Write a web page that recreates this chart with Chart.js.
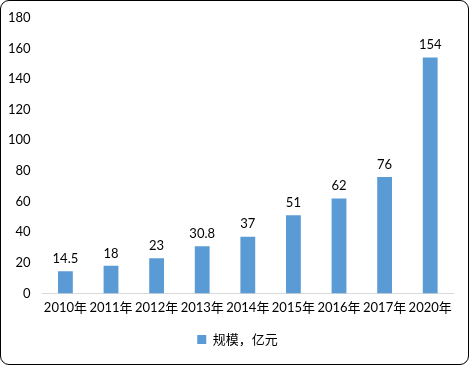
<!DOCTYPE html>
<html>
<head>
<meta charset="utf-8">
<script src="https://cdn.jsdelivr.net/npm/chart.js@4"></script>
<style>
  html, body { margin: 0; padding: 0; background: #fff; }
  #box {
    width: 469px; height: 365px; box-sizing: border-box;
    border: 1px solid #000; border-radius: 9px; overflow: hidden; position: relative;
  }
  #wrap { position: absolute; left: 0; top: -3px; width: 467px; height: 366px; }
</style>
</head>
<body>
<div id="box"><div id="wrap"><canvas id="barChart"></canvas></div></div>
<script>
// data
const years = ['2010年', '2011年', '2012年', '2013年', '2014年', '2015年', '2016年', '2017年', '2020年'];
const scale = [14.5, 18, 23, 30.8, 37, 51, 62, 76, 154];
const seriesName = '规模，亿元';
const yTicks = [0, 20, 40, 60, 80, 100, 120, 140, 160, 180];

const fontFamily = 'Lato, "Noto Sans CJK SC", sans-serif';

// draws the value above each bar
const valueLabels = {
    id: 'valueLabels',
    afterDatasetsDraw(chart) {
        let ctx = chart.ctx;
        let meta = chart.getDatasetMeta(0);
        ctx.save();
        ctx.font = '13px ' + fontFamily;
        ctx.fillStyle = '#000';
        ctx.textAlign = 'center';
        ctx.textBaseline = 'bottom';
        meta.data.forEach((bar, i) => {
            ctx.fillText(String(scale[i]), bar.x, bar.y - 6);
        });
        ctx.restore();
    }
};

// nudge the legend to the right so it sits centred like the original
const legendShift = {
    id: 'legendShift',
    afterLayout(chart) {
        if (chart.legend) {
            chart.legend.left += 13;
            chart.legend.right += 13;
        }
    }
};

let ctx = document.getElementById('barChart').getContext('2d');
let chart = new Chart(ctx, {
    type: 'bar',
    data: {
        labels: years,
        datasets: [{
            label: seriesName,
            data: scale,
            backgroundColor: '#5B9BD5',
            barPercentage: 0.65,
            categoryPercentage: 0.5
        }]
    },
    options: {
        responsive: true,
        maintainAspectRatio: false,
        animation: false,
        layout: { padding: { left: -5, right: 15, top: -3, bottom: 8 } },
        plugins: {
            legend: {
                position: 'bottom',
                labels: {
                    boxWidth: 9, boxHeight: 9, padding: 10,
                    color: '#000',
                    font: { size: 13, family: fontFamily }
                }
            },
            tooltip: { enabled: false }
        },
        scales: {
            x: {
                grid: { display: false, drawTicks: false },
                border: { color: '#d9d9d9', width: 1 },
                ticks: { color: '#000', padding: 7, autoSkip: false, maxRotation: 0, font: { size: 13, family: fontFamily } }
            },
            y: {
                min: 0, max: 180,
                afterBuildTicks: axis => { axis.ticks = yTicks.map(v => ({ value: v })); },
                grid: { display: false, drawTicks: false },
                border: { display: false },
                ticks: { color: '#000', padding: 12, font: { size: 13, family: fontFamily } }
            }
        }
    },
    plugins: [valueLabels, legendShift]
});
</script>
</body>
</html>
